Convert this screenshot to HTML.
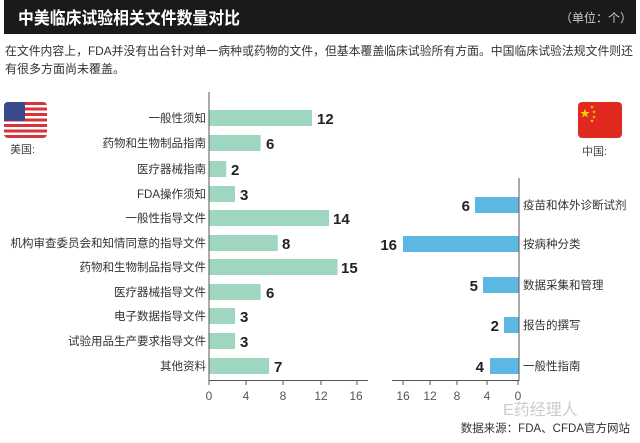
<!DOCTYPE html>
<html><head><meta charset="utf-8"><style>
body{margin:0;background:#fff;}
svg{display:block;font-family:"Liberation Sans","Noto Sans CJK SC",sans-serif;}
</style></head><body>
<svg width="640" height="443" viewBox="0 0 640 443" xmlns="http://www.w3.org/2000/svg">
<rect x="4" y="0" width="632" height="34" fill="#1a1a1a"/>
<text x="18" y="24" fill="#fff" font-size="17" font-weight="bold" textLength="222" lengthAdjust="spacingAndGlyphs">中美临床试验相关文件数量对比</text>
<text x="632" y="22" fill="#ccc" font-size="12" text-anchor="end">（单位：个）</text>
<text x="5" y="55" fill="#333" font-size="12" textLength="628" lengthAdjust="spacingAndGlyphs">在文件内容上，FDA并没有出台针对单一病种或药物的文件，但基本覆盖临床试验所有方面。中国临床试验法规文件则还</text>
<text x="5" y="73" fill="#333" font-size="12">有很多方面尚未覆盖。</text>
<!-- US flag -->
<g>
<clipPath id="cu"><rect x="4" y="102" width="43" height="36" rx="4"/></clipPath>
<g clip-path="url(#cu)">
<rect x="4" y="102" width="43" height="36" fill="#fff"/>
<g fill="#d8333a">
<rect x="4" y="102" width="43" height="3"/><rect x="4" y="107.5" width="43" height="3"/><rect x="4" y="113" width="43" height="3"/><rect x="4" y="118.5" width="43" height="3"/><rect x="4" y="124" width="43" height="3"/><rect x="4" y="129.5" width="43" height="3"/><rect x="4" y="135" width="43" height="3"/>
</g>
<rect x="4" y="102" width="21" height="19" fill="#3b4a8c"/>
</g>
</g>
<text x="10" y="153" fill="#444" font-size="11">美国:</text>
<!-- CN flag -->
<rect x="578" y="102" width="44" height="36" rx="4" fill="#e0281e"/>
<text x="580" y="117" fill="#f5d200" font-size="10">★</text>
<text x="590" y="108" fill="#f5d200" font-size="4">★</text>
<text x="592" y="113" fill="#f5d200" font-size="4">★</text>
<text x="592" y="118" fill="#f5d200" font-size="4">★</text>
<text x="590" y="122" fill="#f5d200" font-size="4">★</text>
<text x="582" y="155" fill="#444" font-size="11">中国:</text>
<!-- Left chart -->
<g fill="#9fd6bf">
<rect x="209" y="110" width="103" height="16"/>
<rect x="209" y="135" width="51.6" height="16"/>
<rect x="209" y="161" width="17.2" height="16"/>
<rect x="209" y="186" width="26" height="16"/>
<rect x="209" y="210" width="120" height="16"/>
<rect x="209" y="235" width="68.8" height="16"/>
<rect x="209" y="259" width="128.5" height="16"/>
<rect x="209" y="284" width="51.6" height="16"/>
<rect x="209" y="308" width="26" height="16"/>
<rect x="209" y="333" width="26" height="16"/>
<rect x="209" y="358" width="60" height="16"/>
</g>
<line x1="209" y1="92" x2="209" y2="381" stroke="#555" stroke-width="1"/>
<line x1="209" y1="380.5" x2="368" y2="380.5" stroke="#555"/>
<g stroke="#555"><line x1="246" y1="380" x2="246" y2="385"/><line x1="283" y1="380" x2="283" y2="385"/><line x1="321" y1="380" x2="321" y2="385"/><line x1="357" y1="380" x2="357" y2="385"/><line x1="209" y1="380" x2="209" y2="385"/></g>
<g font-size="12" fill="#555" text-anchor="middle">
<text x="209" y="400">0</text><text x="246" y="400">4</text><text x="283" y="400">8</text><text x="321" y="400">12</text><text x="356" y="400">16</text>
</g>
<g font-size="11.5" fill="#333" text-anchor="end">
<text x="206" y="122">一般性须知</text>
<text x="206" y="147">药物和生物制品指南</text>
<text x="206" y="173">医疗器械指南</text>
<text x="206" y="198">FDA操作须知</text>
<text x="206" y="222">一般性指导文件</text>
<text x="206" y="247">机构审查委员会和知情同意的指导文件</text>
<text x="206" y="271">药物和生物制品指导文件</text>
<text x="206" y="296">医疗器械指导文件</text>
<text x="206" y="320">电子数据指导文件</text>
<text x="206" y="345">试验用品生产要求指导文件</text>
<text x="206" y="370">其他资料</text>
</g>
<g font-size="15" font-weight="bold" fill="#222">
<text x="317" y="124">12</text>
<text x="266" y="149">6</text>
<text x="231" y="175">2</text>
<text x="240" y="200">3</text>
<text x="333" y="224">14</text>
<text x="282" y="249">8</text>
<text x="341" y="273">15</text>
<text x="266" y="298">6</text>
<text x="240" y="322">3</text>
<text x="240" y="347">3</text>
<text x="274" y="372">7</text>
</g>
<!-- Right chart -->
<g fill="#5cb8e2">
<rect x="475" y="197" width="44" height="16"/>
<rect x="403" y="236" width="116" height="16"/>
<rect x="483" y="277" width="36" height="16"/>
<rect x="504" y="317" width="15" height="16"/>
<rect x="490" y="358" width="29" height="16"/>
</g>
<line x1="519" y1="178" x2="519" y2="381" stroke="#555"/>
<line x1="392" y1="380.5" x2="519" y2="380.5" stroke="#555"/>
<g stroke="#555"><line x1="403" y1="380" x2="403" y2="385"/><line x1="430" y1="380" x2="430" y2="385"/><line x1="457" y1="380" x2="457" y2="385"/><line x1="487" y1="380" x2="487" y2="385"/><line x1="518" y1="380" x2="518" y2="385"/></g>
<g font-size="12" fill="#555" text-anchor="middle">
<text x="403" y="400">16</text><text x="430" y="400">12</text><text x="457" y="400">8</text><text x="487" y="400">4</text><text x="518" y="400">0</text>
</g>
<g font-size="11.5" fill="#333">
<text x="523" y="209">疫苗和体外诊断试剂</text>
<text x="523" y="248">按病种分类</text>
<text x="523" y="289">数据采集和管理</text>
<text x="523" y="329">报告的撰写</text>
<text x="523" y="370">一般性指南</text>
</g>
<g font-size="15" font-weight="bold" fill="#222" text-anchor="end">
<text x="470" y="211">6</text>
<text x="397" y="250">16</text>
<text x="478" y="291">5</text>
<text x="499" y="331">2</text>
<text x="484" y="372">4</text>
</g>
<text x="503" y="415" fill="#ccc" font-size="16">E药经理人</text>
<text x="630" y="432" fill="#333" font-size="11.5" text-anchor="end">数据来源：FDA、CFDA官方网站</text>
</svg>
</body></html>
